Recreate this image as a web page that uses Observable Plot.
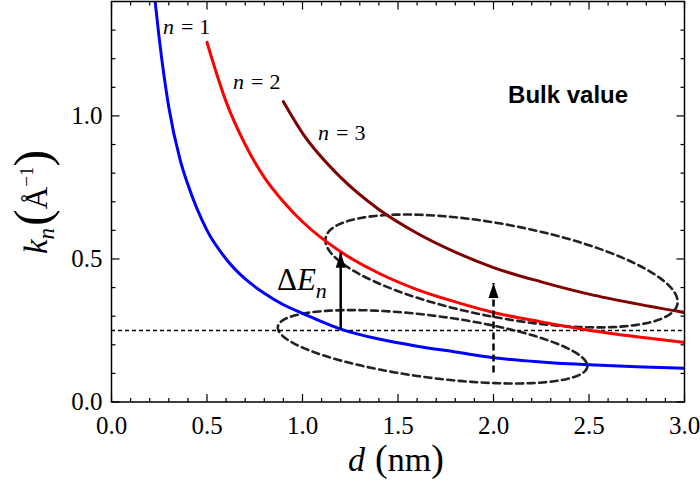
<!DOCTYPE html>
<html><head><meta charset="utf-8">
<script src="https://cdn.jsdelivr.net/npm/d3@7"></script>
<script src="https://cdn.jsdelivr.net/npm/@observablehq/plot@0.6"></script>
<style>
html,body{margin:0;padding:0;background:#fff;}
svg{display:block;}
</style></head><body><div id="chart"></div>
<script>
// ---- data ----
const dN1 = [0.225, 0.25, 0.30, 0.36, 0.40, 0.50, 0.60, 0.70, 0.80, 0.90, 1.00, 1.20, 1.40, 1.60, 1.80, 2.00, 2.25, 2.50, 2.75, 3.00];
const kN1 = [1.42, 1.27, 1.03, 0.845, 0.76, 0.60, 0.50, 0.43, 0.38, 0.34, 0.31, 0.255, 0.22, 0.195, 0.175, 0.155, 0.14, 0.13, 0.123, 0.118];
const dN2 = [0.50, 0.60, 0.70, 0.80, 0.90, 1.00, 1.20, 1.40, 1.60, 1.80, 2.00, 2.25, 2.50, 2.75, 3.00];
const kN2 = [1.257, 1.05, 0.90, 0.785, 0.70, 0.63, 0.525, 0.45, 0.393, 0.35, 0.313, 0.28, 0.251, 0.228, 0.208];
const dN3 = [0.90, 1.00, 1.20, 1.40, 1.60, 1.80, 2.00, 2.25, 2.50, 2.75, 3.00];
const kN3 = [1.05, 0.94, 0.785, 0.673, 0.59, 0.524, 0.47, 0.42, 0.377, 0.343, 0.313];
const seriesColors = ["#0000ff", "#ff0000", "#800000"];
const bulkK = 0.25;

// arrows (ΔE_n and dashed)
const arrowD = [1.2, 2.0];
const arrowK1 = [0.255, 0.103];
const arrowK2 = [0.522, 0.416];
const arrowDashed = [false, true];

// dashed ellipses: centre and two conjugate semi-axis vectors (data units)
const ellCenterD = [1.681, 2.042];
const ellCenterK = [0.193, 0.458];
const ellUd = [0.810, 0.921];
const ellUk = [-0.070, -0.1154];
const ellVd = [-0.0208, -0.0443];
const ellVk = [-0.1075, -0.160];

// ticks
const xMajor = [0, 0.5, 1, 1.5, 2, 2.5, 3];
const xLabels = ["0.0", "0.5", "1.0", "1.5", "2.0", "2.5", "3.0"];
const xMinor = [0.1,0.2,0.3,0.4,0.6,0.7,0.8,0.9,1.1,1.2,1.3,1.4,1.6,1.7,1.8,1.9,2.1,2.2,2.3,2.4,2.6,2.7,2.8,2.9];
const yMajor = [0, 0.5, 1.0];
const yLabels = ["0.0", "0.5", "1.0"];
const yMinor = [0.1,0.2,0.3,0.4,0.6,0.7,0.8,0.9,1.1,1.2,1.3];

// annotations
const nNums = [1, 2, 3];
const nD = [0.272, 0.639, 1.084];
const nK = [1.285, 1.093, 0.914];
const bulkText = "Bulk value";
const bulkD = 2.079, bulkTK = 1.044;
const dEd = 0.869, dEk = 0.39;

// ---- build tables ----
const curves = [];
[[dN1,kN1],[dN2,kN2],[dN3,kN3]].forEach(([ds,ks],i)=>ds.forEach((d,j)=>curves.push({n:i+1,d,k:ks[j],c:seriesColors[i]})));
const ellPts = [];
ellCenterD.forEach((cd,i)=>{
  for (let s=0;s<=200;s++){ const t=2*Math.PI*s/200;
    ellPts.push({id:i, d: cd + ellUd[i]*Math.cos(t) + ellVd[i]*Math.sin(t), k: ellCenterK[i] + ellUk[i]*Math.cos(t) + ellVk[i]*Math.sin(t)});
  }
});
const arrows = arrowD.map((d,i)=>({d,k1:arrowK1[i],k2:arrowK2[i],dashed:arrowDashed[i]}));

const head = {draw(ctx){ctx.moveTo(0,0);ctx.lineTo(5,15);ctx.lineTo(-5,15);ctx.closePath();}};
const tk = (dx,dy)=>({draw(ctx){ctx.moveTo(0,0);ctx.lineTo(dx,dy);}});
const serif = "'Liberation Serif','Times New Roman',serif";

const plot = Plot.plot({
  width: 700, height: 489,
  marginLeft: 111, marginRight: 16, marginTop: 1, marginBottom: 87.5,
  x: {domain: [0, 3], axis: null},
  y: {domain: [0, 1.4], axis: null},
  style: {background: "white", fontFamily: serif},
  marks: [
    Plot.line(ellPts, {x:"d", y:"k", z:"id", stroke:"#222", strokeWidth:2.6, strokeDasharray:"7,4.5", clip:true}),
    Plot.ruleY([bulkK], {stroke:"#000", strokeWidth:1.4, strokeDasharray:"4,3"}),
    Plot.line(curves, {x:"d", y:"k", z:"n", stroke:"c", strokeWidth:3, curve:"monotone-x", clip:true}),
    Plot.link(arrows.filter(a=>!a.dashed), {x1:"d", x2:"d", y1:"k1", y2:"k2", stroke:"#000", strokeWidth:2.5}),
    Plot.link(arrows.filter(a=>a.dashed), {x1:"d", x2:"d", y1:"k1", y2:"k2", stroke:"#000", strokeWidth:2.5, strokeDasharray:"7,4"}),
    Plot.dot(arrows, {x:"d", y:"k2", symbol: head, fill:"#000", stroke:"none", r:5}),
    Plot.frame({stroke:"#000", strokeWidth:1.5}),
    Plot.dot(xMajor, {x:d=>d, y:0, symbol:tk(0,-8), fill:"none", stroke:"#000", strokeWidth:1.2}),
    Plot.dot(xMinor, {x:d=>d, y:0, symbol:tk(0,-4), fill:"none", stroke:"#000", strokeWidth:1.2}),
    Plot.dot(xMajor, {x:d=>d, y:1.4, symbol:tk(0,8), fill:"none", stroke:"#000", strokeWidth:1.2}),
    Plot.dot(xMinor, {x:d=>d, y:1.4, symbol:tk(0,4), fill:"none", stroke:"#000", strokeWidth:1.2}),
    Plot.dot(yMajor, {x:0, y:d=>d, symbol:tk(8,0), fill:"none", stroke:"#000", strokeWidth:1.2}),
    Plot.dot(yMinor, {x:0, y:d=>d, symbol:tk(4,0), fill:"none", stroke:"#000", strokeWidth:1.2}),
    Plot.dot(yMajor, {x:3, y:d=>d, symbol:tk(-8,0), fill:"none", stroke:"#000", strokeWidth:1.2}),
    Plot.dot(yMinor, {x:3, y:d=>d, symbol:tk(-4,0), fill:"none", stroke:"#000", strokeWidth:1.2}),
    Plot.text(xMajor, {x:d=>d, y:0, text:(d,i)=>xLabels[i], dy:24, fontSize:25, fill:"#000"}),
    Plot.text(yMajor, {x:0, y:d=>d, text:(d,i)=>yLabels[i], textAnchor:"end", dx:-9, fontSize:25, fill:"#000"})
  ]
});
document.getElementById("chart").appendChild(plot);

const sx = plot.scale("x"), sy = plot.scale("y");
const svg = d3.select(plot);

// n labels
nNums.forEach((n,i)=>{
  const t = svg.append("text").attr("x", sx.apply(nD[i])).attr("y", sy.apply(nK[i]))
    .attr("text-anchor","start").attr("font-family", serif).attr("font-size", 22).attr("fill", "#000");
  t.append("tspan").attr("font-style","italic").text("n");
  t.append("tspan").attr("dx", 7).text("=");
  t.append("tspan").attr("dx", 6).text(String(n));
});
// Bulk value
svg.append("text").attr("x", sx.apply(bulkD)).attr("y", sy.apply(bulkTK)).attr("text-anchor","start")
  .attr("font-family","'Liberation Sans',Arial,sans-serif").attr("font-weight","bold")
  .attr("font-size",24).attr("fill","#000").text(bulkText);
// ΔE_n
{
  const t = svg.append("text").attr("x", sx.apply(dEd)).attr("y", sy.apply(dEk)).attr("text-anchor","start")
    .attr("font-family", serif).attr("font-size", 31).attr("fill","#000");
  t.append("tspan").text("Δ");
  t.append("tspan").attr("font-style","italic").text("E");
  t.append("tspan").attr("font-style","italic").attr("font-size",22).attr("dy",8).text("n");
}
// y axis title (rotated), centred on y=202 using its measured length
{
  const t = svg.append("text").attr("text-anchor","start").attr("font-family", serif).attr("font-size",33).attr("fill","#000");
  t.append("tspan").attr("font-style","italic").text("k");
  t.append("tspan").attr("font-style","italic").attr("font-size",23).attr("dy",7).text("n");
  t.append("tspan").attr("font-size",50).attr("dy",-5).attr("dx",2).text("(");
  t.append("tspan").attr("font-size",31).attr("dy",-2).text("Å");
  t.append("tspan").attr("font-size",19).attr("dy",-14).text("−1");
  t.append("tspan").attr("font-size",50).attr("dy",16).text(")");
  const w = t.node().getComputedTextLength();
  t.attr("transform", `translate(47,${203 + w/2}) rotate(-90)`);
}
// x axis title
{
  const t = svg.append("text").attr("x", 396).attr("y", 471)
    .attr("text-anchor","middle").attr("font-family", serif).attr("font-size",34).attr("fill","#000");
  t.append("tspan").attr("font-style","italic").text("d");
  t.append("tspan").attr("dx",10).attr("font-size",38).text("(");
  t.append("tspan").text("nm");
  t.append("tspan").attr("font-size",38).text(")");
}
</script></body></html>
